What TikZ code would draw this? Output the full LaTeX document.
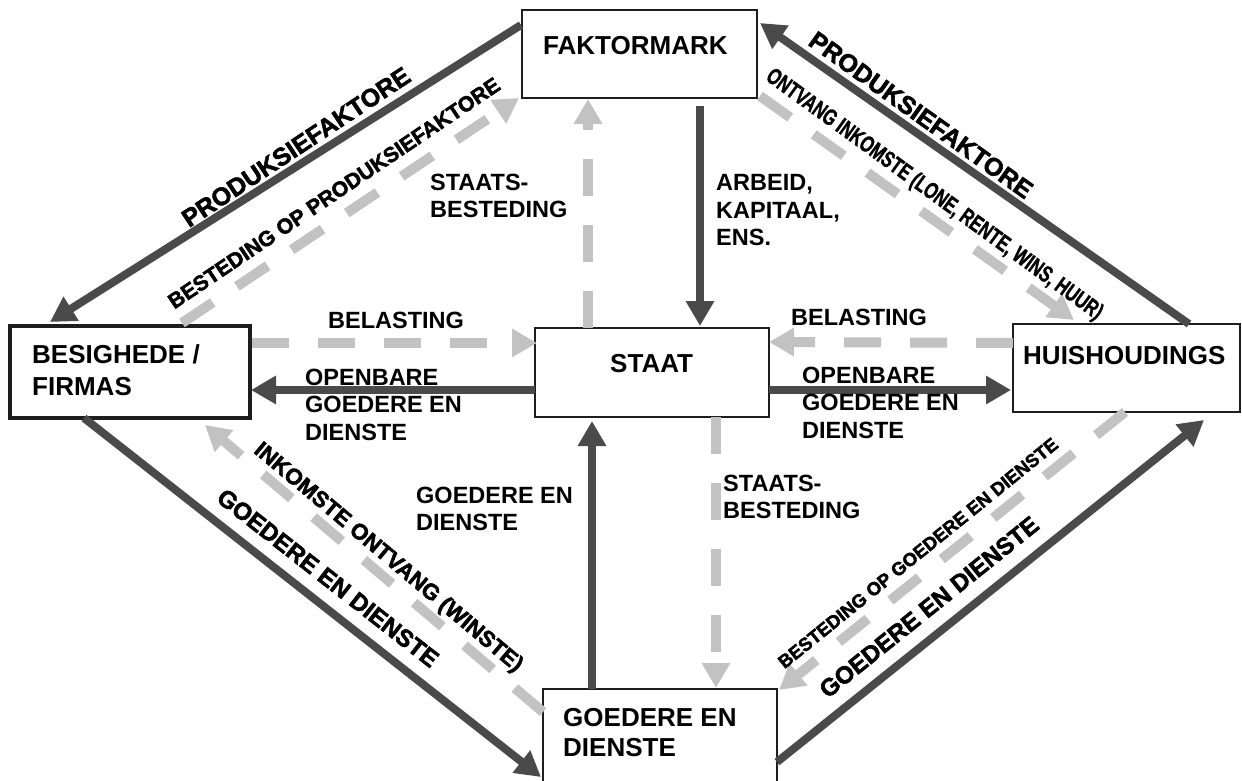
\documentclass[tikz,border=0pt]{standalone}
\usepackage{fontspec}
\setmainfont{Liberation Sans}
\newfontfamily\heavyfont[FakeBold=2.2]{Liberation Sans}
\newfontfamily\narrowfont[FakeBold=1.5]{Liberation Sans}
\usetikzlibrary{arrows.meta,calc}
\definecolor{darkar}{HTML}{4A4A4A}
\definecolor{lightar}{HTML}{C2C2C2}
\definecolor{boxline}{HTML}{1E1E1E}
\begin{document}
\begin{tikzpicture}[x=1pt,y=-1pt,
 box/.style={draw=boxline,line width=2pt,fill=white,inner sep=0pt,outer sep=0pt},
 boxtxt/.style={font=\fontsize{26}{32}\selectfont\bfseries,inner sep=0pt,anchor=north west,align=left},
 lbl/.style={font=\fontsize{23.5}{27.5}\selectfont\bfseries,inner sep=0pt,anchor=north west,align=left},
 rlbl/.style={font=\heavyfont\bfseries\fontsize{#1}{#1}\selectfont,inner sep=0pt},
 nlbl/.style={font=\narrowfont\bfseries\fontsize{#1}{#1}\selectfont,inner sep=0pt},
 darr/.style={draw=darkar,line width=8pt,-{Triangle[length=25pt,width=27pt]}},
 larr/.style={draw=lightar,line width=10pt,dash pattern=on 37pt off 29pt,-{Triangle[length=25pt,width=27pt]}},
]
\useasboundingbox (0,0) rectangle (1242,781);

% boxes
\node[box,minimum width=235pt,minimum height=88pt] (F) at (639.5,54) {};
\node[box,line width=4pt,minimum width=240pt,minimum height=92pt] (B) at (130,372) {};
\node[box,minimum width=234pt,minimum height=89pt] (S) at (652,372.5) {};
\node[box,minimum width=227pt,minimum height=88pt] (H) at (1126.5,368) {};
\node[box,minimum width=234pt,minimum height=94pt] (G) at (660,736) {};

% box texts
\node[boxtxt] (Ft) at (543,35.7) {FAKTORMARK};
\node[boxtxt] (Bt) at (32,344.7) {BESIGHEDE /\\FIRMAS};
\node[boxtxt] (St) at (610,353.7) {STAAT};
\node[boxtxt] (Ht) at (1023,345.7) {HUISHOUDINGS};
\node[boxtxt,font=\fontsize{26}{30}\selectfont\bfseries] (Gt) at (563,707.7) {GOEDERE EN\\DIENSTE};

% arrows
\draw[darr] ($(F.north west)+(-1,15)$) -- ($(B.north west)+(40,-4)$);
\draw[larr] ($(B.north west)+(172,-3)$) -- ($(F.south west)+(-3,0)$);
\draw[darr] ($(H.north west)+(176,0)$) -- ($(F.north east)+(3,13)$);
\draw[larr] ($(F.south east)+(3,-2)$) -- ($(H.north west)+(61,-4)$);
\draw[darr] ($(F.south west)+(178,8)$) -- ($(S.north west)+(165,-2)$);
\draw[larr] ($(S.north west)+(53,0)$) -- ($(F.south west)+(66,1)$);
\draw[larr] ($(B.north east)+(2,17)$) -- ($(S.north west)+(2,15)$);
\draw[larr] ($(H.north west)+(0,19)$) -- ($(S.north east)+(0,14)$);
\draw[darr] ($(S.north west)+(0,62)$) -- ($(B.north east)+(1,64)$);
\draw[darr] ($(S.north east)+(0,62)$) -- ($(H.north west)+(-2,66)$);
\draw[darr] ($(B.south west)+(74,0)$) -- ($(G.north west)+(-2,88)$);
\draw[larr] ($(G.north west)+(0,23)$) -- ($(B.south west)+(195,7)$);
\draw[darr] ($(G.north west)+(49,0)$) -- ($(S.south west)+(57,4)$);
\draw[larr] ($(S.south west)+(181,0)$) -- ($(G.north west)+(173,-1)$);
\draw[darr] ($(G.north east)+(0,73)$) -- ($(H.south west)+(191,8)$);
\draw[larr] ($(H.south west)+(112,0)$) -- ($(G.north east)+(2,1)$);

% straight labels
\node[lbl] (l1) at (430,173.6) {STAATS-\\BESTEDING};
\node[lbl] (l2) at (716,174.6) {ARBEID,\\KAPITAAL,\\ENS.};
\node[lbl] (l3) at (328,311.6) {BELASTING};
\node[lbl] (l4) at (791,308.6) {BELASTING};
\node[lbl] (l5) at (305,368.6) {OPENBARE\\GOEDERE EN\\DIENSTE};
\node[lbl] (l6) at (802,366.6) {OPENBARE\\GOEDERE EN\\DIENSTE};
\node[lbl] (l7) at (723,474.6) {STAATS-\\BESTEDING};
\node[lbl] (l8) at (416,486.6) {GOEDERE EN\\DIENSTE};

% rotated labels
\node[rlbl=25,rotate=33.5] (r1) at (296,147) {PRODUKSIEFAKTORE};
\node[rlbl=21.3,rotate=34] (r2) at (334,193) {BESTEDING OP PRODUKSIEFAKTORE};
\node[rlbl=25,rotate=-35.5] (r3) at (921,115) {PRODUKSIEFAKTORE};
\node[nlbl=23,rotate=-36,xscale=0.72] (r4) at (934,195) {ONTVANG INKOMSTE (LONE, RENTE, WINS, HUUR)};
\node[rlbl=22.4,rotate=-40] (r5) at (388,558) {INKOMSTE ONTVANG (WINSTE)};
\node[rlbl=24.2,rotate=-38] (r6) at (328,578) {GOEDERE EN DIENSTE};
\node[rlbl=24.2,rotate=38.8] (r7) at (929,607) {GOEDERE EN DIENSTE};
\node[rlbl=18.5,rotate=39] (r8) at (918,553) {BESTEDING OP GOEDERE EN DIENSTE};
\end{tikzpicture}
\end{document}
